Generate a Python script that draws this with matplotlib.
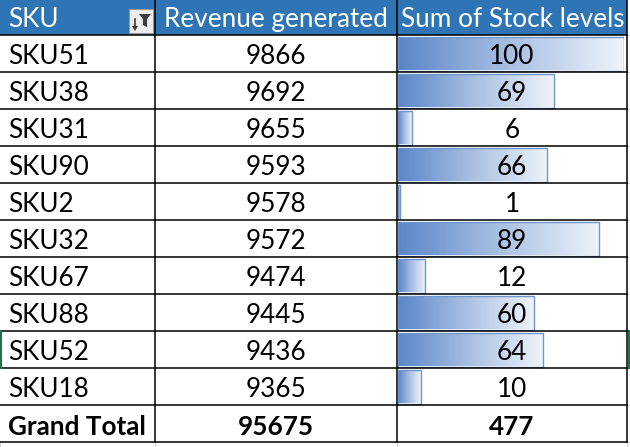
import numpy as np
import matplotlib
matplotlib.use("Agg")
import matplotlib.pyplot as plt
from matplotlib.patches import Rectangle, Polygon
from matplotlib.colors import LinearSegmentedColormap

# pivot table data
skus = ["SKU51", "SKU38", "SKU31", "SKU90", "SKU2", "SKU32", "SKU67", "SKU88", "SKU52", "SKU18"]
revenue = [9866, 9692, 9655, 9593, 9578, 9572, 9474, 9445, 9436, 9365]
stock = [100, 69, 6, 66, 1, 89, 12, 60, 64, 10]
headers = ["SKU", "Revenue generated", "Sum of Stock levels"]
total_label = "Grand Total"
total_revenue = 95675
total_stock = 477

W, H = 630, 447
col_edges = [0, 155, 397, 627]
head_h = 35.3
row_h = 37.0
n = len(skus)

plt.rcParams['font.family'] = ['Lato', 'DejaVu Sans']
fs = 18.8
dy = 3.0

fig = plt.figure(figsize=(W / 100, H / 100), dpi=100, facecolor='white')

# data bars in the stock column (drawn underneath the table axes)
bax = fig.add_axes([398 / W, 0, 226 / W, 1])
bax.axis('off')
bax.set_zorder(1)
bh = row_h - 3.6
ycs = [head_h + row_h * (i + 0.5) for i in range(n + 1)]
bars = bax.barh(ycs[:n], stock, height=bh, facecolor='none', edgecolor='#6F95CB', lw=1.0, zorder=2)
cmap = LinearSegmentedColormap.from_list('xlbar', ['#5A86C8', '#A9C0E3', '#EEF3FA'])
grad = np.linspace(0, 1, 256).reshape(1, -1)
for b in bars:
    x0, y0, w, h = b.get_x(), b.get_y(), b.get_width(), b.get_height()
    im = bax.imshow(grad, extent=(x0, x0 + w, y0 + h, y0), cmap=cmap, aspect='auto',
                    interpolation='bilinear', zorder=1)
    im.set_clip_path(b)
bax.set_xlim(0, 100)
bax.set_ylim(H, 0)

ax = fig.add_axes([0, 0, 1, 1])
ax.set_zorder(2)
ax.patch.set_visible(False)
ax.set_xlim(0, W)
ax.set_ylim(H, 0)
ax.axis('off')

# header
ax.add_patch(Rectangle((0, 0), col_edges[-1], head_h, facecolor='#2F75B5', edgecolor='none', zorder=1))
hx = [8, col_edges[1] + 9, col_edges[2] + 4]
for x, t in zip(hx, headers):
    ax.text(x, head_h / 2 + 2, t, color='white', fontsize=fs, ha='left', va='center', zorder=3)

# filter button
ax.add_patch(Rectangle((129, 9), 24, 24, facecolor='#EDEDED', edgecolor='#9A9A9A', lw=0.8, zorder=3))
ax.add_patch(Polygon([[139, 14], [151, 14], [147, 19], [147, 27], [143, 25], [143, 19]],
                     closed=True, facecolor='#3C3C3C', edgecolor='none', zorder=4))
ax.plot([135, 135], [19, 27], color='#3C3C3C', lw=1.2, zorder=4)
ax.add_patch(Polygon([[132, 26], [138, 26], [135, 31]], closed=True,
                     facecolor='#3C3C3C', edgecolor='none', zorder=4))

# body rows
for i in range(n):
    y = ycs[i] + dy
    ax.text(8, y, skus[i], fontsize=fs, ha='left', va='center', color='black', zorder=3)
    ax.text((col_edges[1] + col_edges[2]) / 2, y, str(revenue[i]), fontsize=fs,
            ha='center', va='center', color='black', zorder=3)
    ax.text((col_edges[2] + col_edges[3]) / 2, y, str(stock[i]), fontsize=fs,
            ha='center', va='center', color='black', zorder=3)

y = ycs[n] + dy
ax.text(8, y, total_label, fontsize=fs, fontweight='bold', ha='left', va='center', zorder=3)
ax.text((col_edges[1] + col_edges[2]) / 2, y, str(total_revenue), fontsize=fs,
        fontweight='bold', ha='center', va='center', zorder=3)
ax.text((col_edges[2] + col_edges[3]) / 2, y, str(total_stock), fontsize=fs,
        fontweight='bold', ha='center', va='center', zorder=3)

# grid lines
bottom = head_h + row_h * (n + 1)
for k in range(n + 2):
    yy = head_h + row_h * k
    ax.plot([col_edges[-1], W], [yy, yy], color='#D0D0D0', lw=0.8, zorder=0)
for x in col_edges:
    ax.plot([x, x], [bottom, H], color='#D0D0D0', lw=0.8, zorder=0)

for k in range(n + 2):
    yy = head_h + row_h * k
    ax.plot([0, col_edges[-1]], [yy, yy], color='black', lw=1.1, zorder=2)
for x in col_edges[1:]:
    ax.plot([x, x], [0, bottom], color='black', lw=1.1, zorder=2)

# selected row hint
ax.plot([0.8, 0.8], [ycs[8] - row_h / 2, ycs[8] + row_h / 2], color='#217346', lw=1.5, zorder=4)
ax.plot([629, 629], [ycs[8] - row_h / 2, ycs[8] + row_h / 2], color='#217346', lw=1.5, zorder=4)

fig.savefig('out.png', dpi=100, facecolor='white')
